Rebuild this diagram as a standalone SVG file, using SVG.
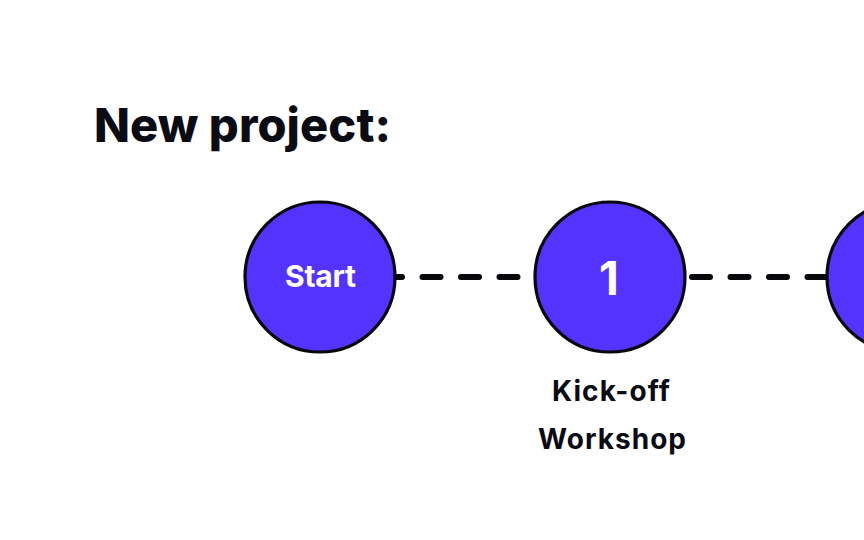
<svg xmlns="http://www.w3.org/2000/svg" width="864" height="540" viewBox="0 0 864 540">
<style>
.title{font-family:Inter,"Liberation Sans",sans-serif;font-weight:800;font-size:47px;fill:#0b0b14}
.node circle{fill:#5533ff;stroke:#07070c;stroke-width:3.2}
.in{font-family:Inter,"Liberation Sans",sans-serif;font-weight:700;fill:#fff;text-anchor:middle}
.lbl{font-family:Inter,"Liberation Sans",sans-serif;font-weight:700;font-size:28px;fill:#0b0b14;text-anchor:middle}
.conn line{stroke:#07070c;stroke-width:6;stroke-linecap:round;stroke-dasharray:18 20.5}
</style>
<rect width="864" height="540" fill="#fff"/>
<text class="title" x="94" y="142" textLength="297" lengthAdjust="spacing">New project:</text>
<g id="connectors" class="conn">
<line x1="384" y1="277" x2="545" y2="277"/>
<line x1="692" y1="277" x2="840" y2="277"/>
</g>
<g id="node-start" class="node">
<circle cx="320" cy="277" r="75"/>
<text class="in" x="320.5" y="287" font-size="30" textLength="71" lengthAdjust="spacing">Start</text>
</g>
<g id="node-1" class="node">
<circle cx="610" cy="277" r="75"/>
<text class="in" x="609" y="295" font-size="46">1</text>
<text class="lbl" x="611" y="401" textLength="118" lengthAdjust="spacing">Kick-off</text>
<text class="lbl" x="612" y="449" textLength="148" lengthAdjust="spacing">Workshop</text>
</g>
<g id="node-2" class="node">
<circle cx="902" cy="277" r="75"/>
</g>
</svg>
